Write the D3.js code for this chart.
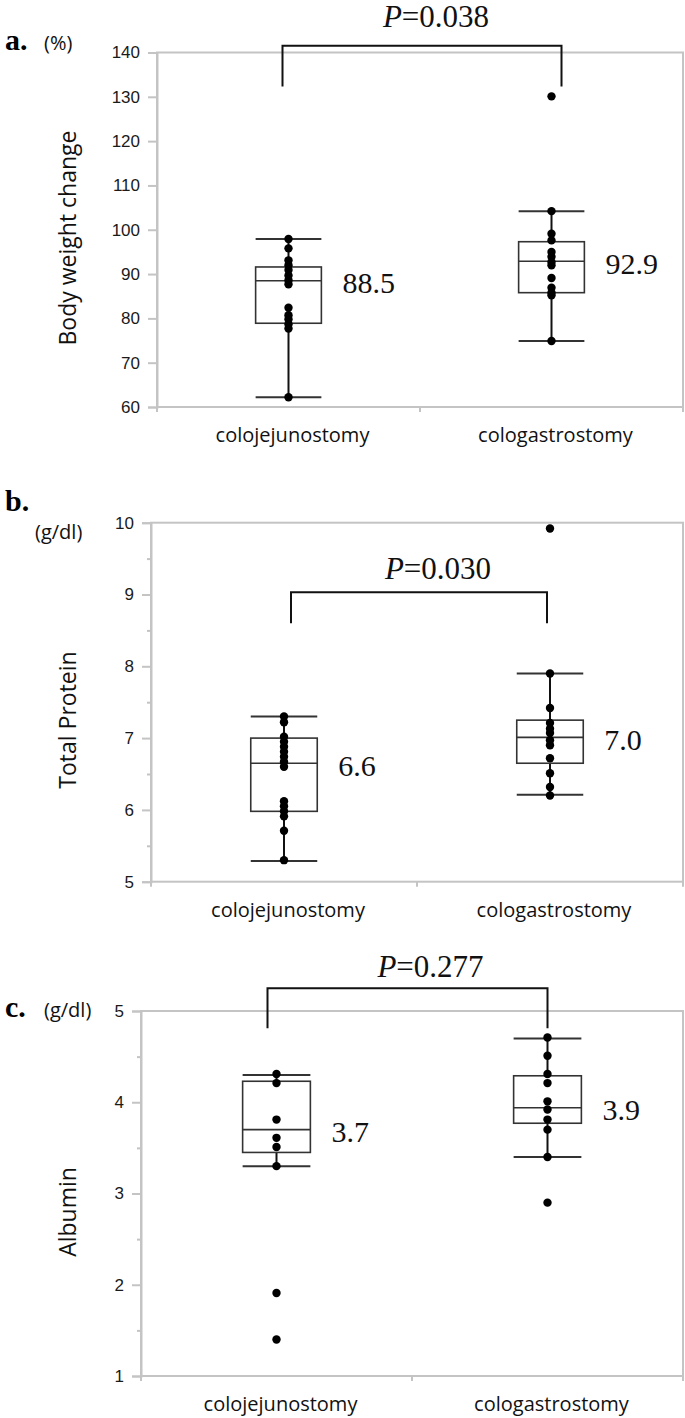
<!DOCTYPE html>
<html>
<head>
<meta charset="utf-8">
<script src="https://cdn.jsdelivr.net/npm/d3@7"></script>
<style>
  body { margin: 0; background: #fff; }
</style>
</head>
<body>
<svg width="685" height="1418"></svg>
<script>
// categories
var groups = ["colojejunostomy", "cologastrostomy"];

// a. body weight change (%)
var weightTicks = [60, 70, 80, 90, 100, 110, 120, 130, 140];
var weightJejuno = [97.9, 95.8, 93.1, 92.0, 90.9, 89.7, 88.6, 87.7, 82.4, 80.7, 79.8, 78.7, 77.7, 62.2];
var weightGastro = [130.1, 104.2, 99.1, 97.6, 95.0, 93.9, 92.7, 92.0, 89.1, 86.9, 85.8, 85.2, 74.9];
// [min, q1, median, q3, max]
var weightBoxes = [[62.2, 78.9, 88.5, 91.6, 97.9], [74.9, 85.8, 92.9, 97.3, 104.2]];
var weightLabels = ["88.5", "92.9"];

// b. total protein (g/dl)
var proteinTicks = [5, 6, 7, 8, 9, 10];
var proteinMinor = [5.5, 6.5, 7.5, 8.5, 9.5];
var proteinJejuno = [7.30, 7.22, 7.02, 6.95, 6.88, 6.81, 6.74, 6.67, 6.60, 6.12, 6.05, 5.98, 5.91, 5.71, 5.30];
var proteinGastro = [9.92, 7.90, 7.42, 7.21, 7.13, 7.07, 6.97, 6.90, 6.72, 6.51, 6.32, 6.20];
var proteinBoxes = [[5.29, 5.98, 6.65, 7.00, 7.30], [6.21, 6.65, 7.01, 7.25, 7.90]];
var proteinLabels = ["6.6", "7.0"];

// c. albumin (g/dl)
var albuminTicks = [1, 2, 3, 4, 5];
var albuminMinor = [1.5, 2.5, 3.5, 4.5];
var albuminJejuno = [4.31, 4.21, 3.81, 3.61, 3.51, 3.30, 1.91, 1.40];
var albuminGastro = [4.71, 4.51, 4.31, 4.21, 4.01, 3.92, 3.81, 3.70, 3.40, 2.90];
var albuminBoxes = [[3.30, 3.45, 3.70, 4.23, 4.30], [3.40, 3.77, 3.94, 4.29, 4.70]];
var albuminLabels = ["3.7", "3.9"];

var pValues = ["0.038", "0.030", "0.277"];

var svg = d3.select("svg");
var sans = "'Open Sans', 'Noto Sans', sans-serif";
var serif = "'Liberation Serif', 'Times New Roman', serif";
var tickFont = "'Liberation Sans', Arial, sans-serif";

var panels = [
  {letter: "a.", unit: "(%)", title: "Body weight change", left: 157, right: 683, top: 52.5, bottom: 407,
   domain: [60, 140], ticks: weightTicks, minor: [], points: [weightJejuno, weightGastro],
   boxes: weightBoxes, labels: weightLabels, p: pValues[0],
   bracket: {top: 141.5, leg: 132.3, dx: [-6, 10], text: 148.3, tdx: 14},
   letterY: 50, unitX: 44, unitY: 50, titleY: 238},
  {letter: "b.", unit: "(g/dl)", title: "Total Protein", left: 151, right: 683, top: 522.7, bottom: 881.7,
   domain: [5, 10], ticks: proteinTicks, minor: proteinMinor, points: [proteinJejuno, proteinGastro],
   boxes: proteinBoxes, labels: proteinLabels, p: pValues[1],
   bracket: {top: 9.03, leg: 8.60, dx: [7, -3], text: 9.37, tdx: 19},
   letterY: 511, unitX: 35, unitY: 539, titleY: 720},
  {letter: "c.", unit: "(g/dl)", title: "Albumin", left: 141, right: 683, top: 1011, bottom: 1376,
   domain: [1, 5], ticks: albuminTicks, minor: albuminMinor, points: [albuminJejuno, albuminGastro],
   boxes: albuminBoxes, labels: albuminLabels, p: pValues[2],
   bracket: {top: 5.25, leg: 4.81, dx: [-9, 0], text: 5.49, tdx: 23},
   letterY: 1017, unitX: 44, unitY: 1017, titleY: 1212}
];

panels.forEach(drawPanel);

function drawPanel(p) {
  var x = d3.scaleBand().domain(groups).range([p.left, p.right]);
  var y = d3.scaleLinear().domain(p.domain).range([p.bottom, p.top]);
  var g = svg.append("g");
  var bw = x.bandwidth() * 0.25;

  // plot frame
  g.append("rect")
      .attr("x", p.left).attr("y", p.top)
      .attr("width", p.right - p.left).attr("height", p.bottom - p.top)
      .attr("fill", "none").attr("stroke", "#c4c4c4").attr("stroke-width", 2);

  // y axis
  var ya = g.append("g")
      .attr("transform", "translate(" + p.left + ",0)")
      .call(d3.axisLeft(y).tickValues(p.ticks).tickFormat(d3.format("d")).tickSize(9).tickPadding(8));
  ya.select(".domain").attr("stroke", "#c4c4c4").attr("stroke-width", 2);
  ya.selectAll(".tick line").attr("stroke", "#c4c4c4").attr("stroke-width", 2);
  ya.selectAll(".tick text")
      .attr("font-family", tickFont).attr("font-size", 17).attr("fill", "#1a1a1a");

  if (p.minor.length) {
    var ym = g.append("g")
        .attr("transform", "translate(" + p.left + ",0)")
        .call(d3.axisLeft(y).tickValues(p.minor).tickSize(4).tickFormat(""));
    ym.select(".domain").remove();
    ym.selectAll(".tick line").attr("stroke", "#c4c4c4").attr("stroke-width", 2);
  }

  // x axis, ticks on band edges
  var edges = [p.left, x(groups[1]), p.right];
  g.selectAll(".edge").data(edges).enter().append("line")
      .attr("x1", function(d) { return d; }).attr("x2", function(d) { return d; })
      .attr("y1", p.bottom).attr("y2", p.bottom + 5)
      .attr("stroke", "#c4c4c4").attr("stroke-width", 2);

  g.selectAll(".cat").data(groups).enter().append("text")
      .attr("x", function(d) { return x(d) + x.bandwidth() / 2 + 4; })
      .attr("y", p.bottom + 35)
      .attr("text-anchor", "middle")
      .attr("font-family", sans).attr("font-size", 20).attr("fill", "#111")
      .text(function(d) { return d; });

  // titles
  g.append("text")
      .attr("transform", "translate(68," + p.titleY + ") rotate(-90)")
      .attr("text-anchor", "middle").attr("dy", "0.35em")
      .attr("font-family", sans).attr("font-size", 23).attr("fill", "#111")
      .text(p.title);
  g.append("text")
      .attr("x", 5).attr("y", p.letterY)
      .attr("font-family", serif).attr("font-weight", "bold").attr("font-size", 30)
      .text(p.letter);
  g.append("text")
      .attr("x", p.unitX).attr("y", p.unitY)
      .attr("font-family", sans).attr("font-size", 20).attr("fill", "#111")
      .text(p.unit);

  // boxes
  groups.forEach(function(k, i) {
    var b = p.boxes[i];
    var cx = x(k) + x.bandwidth() / 2;
    var bg = g.append("g");
    bg.append("line").attr("x1", cx).attr("x2", cx).attr("y1", y(b[0])).attr("y2", y(b[1]))
        .attr("stroke", "#111").attr("stroke-width", 2);
    bg.append("line").attr("x1", cx).attr("x2", cx).attr("y1", y(b[3])).attr("y2", y(b[4]))
        .attr("stroke", "#111").attr("stroke-width", 2);
    [b[0], b[4]].forEach(function(v) {
      bg.append("line").attr("x1", cx - bw / 2).attr("x2", cx + bw / 2)
          .attr("y1", y(v)).attr("y2", y(v))
          .attr("stroke", "#333").attr("stroke-width", 2);
    });
    bg.append("rect")
        .attr("x", cx - bw / 2).attr("y", y(b[3]))
        .attr("width", bw).attr("height", y(b[1]) - y(b[3]))
        .attr("fill", "none").attr("stroke", "#333").attr("stroke-width", 1.6);
    bg.append("line").attr("x1", cx - bw / 2).attr("x2", cx + bw / 2)
        .attr("y1", y(b[2])).attr("y2", y(b[2]))
        .attr("stroke", "#333").attr("stroke-width", 1.6);

    bg.selectAll("circle").data(p.points[i]).enter().append("circle")
        .attr("cx", cx).attr("cy", function(d) { return y(d); })
        .attr("r", 4.2).attr("fill", "#000");

    bg.append("text")
        .attr("x", cx + bw / 2 + 21).attr("y", y(b[2]) + 2)
        .attr("dy", "0.35em")
        .attr("font-family", serif).attr("font-size", 30).attr("fill", "#111")
        .text(p.labels[i]);
  });

  // significance bracket
  var br = p.bracket;
  var x0 = x(groups[0]) + x.bandwidth() / 2 + br.dx[0];
  var x1 = x(groups[1]) + x.bandwidth() / 2 + br.dx[1];
  g.append("path")
      .attr("d", "M" + x0 + "," + y(br.leg) + "V" + y(br.top) + "H" + x1 + "V" + y(br.leg))
      .attr("fill", "none").attr("stroke", "#111").attr("stroke-width", 2);
  var pt = g.append("text")
      .attr("x", (x0 + x1) / 2 + br.tdx).attr("y", y(br.text))
      .attr("dy", "0.35em").attr("text-anchor", "middle")
      .attr("font-family", serif).attr("font-size", 31).attr("fill", "#111");
  pt.append("tspan").attr("font-style", "italic").text("P");
  pt.append("tspan").text("=" + p.p);
}
</script>
</body>
</html>
